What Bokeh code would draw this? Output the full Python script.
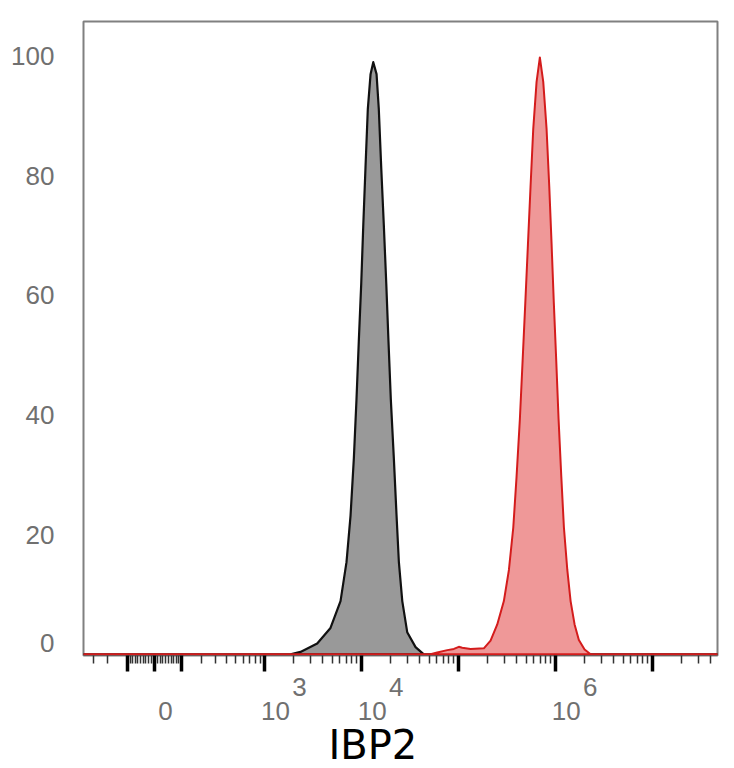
import numpy as np
from bokeh.plotting import figure
from bokeh.models import (ColumnDataSource, Range1d, FixedTicker, LinearAxis, Title,
                          CustomJSTransform)
from bokeh.transform import transform
from bokeh.embed import file_html
from bokeh.resources import INLINE

# ---- data (fluorescence intensity vs. % of max) ----
COFACTOR = 148.0  # arcsinh display cofactor of the biexponential-like axis

BLACK_X = [-385, 1864, 2364, 3518, 4824, 6120, 7052, 7763, 8399, 8939, 9442,
           10005, 10500, 11070, 11700, 12484, 13313, 14393, 15177, 16080, 17109,
           18123, 19107, 20195, 21689, 23132, 24450, 26499, 29800, 36327, 44178, 4.7e7]
BLACK_Y = [0, 0, 0.4, 1.8, 4.4, 8.9, 15.4, 23.2, 32.8, 42.6, 52.3,
           62, 71.7, 81.4, 91.2, 97, 99.0, 97, 91.2, 81.4, 71.7,
           62, 52.3, 42.6, 32.8, 23.2, 15.4, 8.9, 3.7, 1.2, 0, 0]

RED_X = [-385, 51786, 60710, 77100, 90200, 101450, 109960, 134000, 183700, 215400,
         252500, 295300, 332900, 369200, 399200, 431700, 460500, 491100, 522700,
         556200, 593300, 641600, 693800, 752000, 813300, 867300, 916900, 966400,
         1024000, 1082000, 1154000, 1228000, 1331000, 1439000, 1582000, 1751000,
         2005000, 2313000, 4.7e7]
RED_Y = [0, 0, 0.3, 0.7, 0.9, 1.25, 1.1, 0.9, 1.0, 2.3,
         5.0, 8.9, 14.1, 21.2, 29.7, 39.3, 49, 58.75, 68.5,
         78.2, 87.9, 95.7, 99.8, 95.7, 87.9, 78.2, 68.5, 58.75,
         49, 39.3, 29.7, 21.2, 14.1, 8.9, 5.0, 2.4,
         0.8, 0, 0]

X_LIMITS = [-385, 4.7e7]
Y_LIMITS = [-0.2, 105.8]
Y_TICKS = [20, 40, 60, 80, 100]
Y_ZERO_LABEL = "0"
X_MAJOR_TICKS = [-100, 0, 100, 1e3, 1e4, 1e5, 1e6, 1e7]
X_TICK_LABELS = [(0, "0", ""), (1e3, "10", "3"), (1e4, "10", "4"), (1e6, "10", "6")]
X_TITLE = "IBP2"

GRAY_FILL = "#999999"
GRAY_LINE = "#111111"
RED_FILL = "#ef9898"
RED_LINE = "#d41c1c"
LABEL_COLOR = "#707070"
LABEL_FONT = "Liberation Sans"

# layout (pixels)
W, H = 730, 768
FRAME_L, FRAME_T, FRAME_R, FRAME_B = 83, 21, 717, 655
BASE_SHIFT_PX = 11      # "10" text centred right of its tick, as in the original
EXP_SHIFT_PX = 35       # exponent further right
ZERO_RAISE_PX = 11.5    # y "0" label raised above the baseline
TITLE_LEFT_PX = 245     # title left edge measured from the frame's left side


def axis_scale(v):
    return np.arcsinh(np.asarray(v, dtype=float) / COFACTOR) / np.log(10)


minor = ([-m * 100 for m in range(2, 10)] + [-m * 10 for m in range(1, 10)] +
         [m * 10 for m in range(1, 10)] + [m * 100 for m in range(2, 10)] +
         [m * 10 ** k for k in range(3, 8) for m in range(2, 10)])
minor = [t for t in minor if X_LIMITS[0] < t < X_LIMITS[1]]

scale_t = CustomJSTransform(
    args=dict(c=COFACTOR),
    func="return Math.asinh(x / c) / Math.LN10;",
    v_func="""
        const out = new Float64Array(xs.length);
        for (let i = 0; i < xs.length; i++) { out[i] = Math.asinh(xs[i] / c) / Math.LN10; }
        return out;
    """,
)

xs_lim = axis_scale(X_LIMITS)
px_per_u = (FRAME_R - FRAME_L) / float(xs_lim[1] - xs_lim[0])
px_per_y = (FRAME_B - FRAME_T) / float(Y_LIMITS[1] - Y_LIMITS[0])

p = figure(width=W, height=H, output_backend="svg", toolbar_location=None,
           x_range=Range1d(float(xs_lim[0]), float(xs_lim[1])),
           y_range=Range1d(*Y_LIMITS))
p.min_border_left = FRAME_L
p.min_border_right = W - FRAME_R
p.min_border_top = FRAME_T
p.min_border_bottom = H - FRAME_B
p.background_fill_color = "white"
p.border_fill_color = "white"
p.outline_line_color = "#808080"
p.outline_line_width = 2
p.xgrid.visible = False
p.ygrid.visible = False

black_src = ColumnDataSource(dict(x=BLACK_X, y=BLACK_Y))
red_src = ColumnDataSource(dict(x=RED_X, y=RED_Y))

p.patch(x=transform("x", scale_t), y="y", source=black_src,
        fill_color=GRAY_FILL, line_color=GRAY_LINE, line_width=2.2, line_join="round")
p.patch(x=transform("x", scale_t), y="y", source=red_src,
        fill_color=RED_FILL, line_color=RED_LINE, line_width=2.0, line_join="round")

# x axis (ticks only)
xa = p.xaxis[0]
major_u = [round(float(v), 6) for v in axis_scale(X_MAJOR_TICKS)]
minor_u = [round(float(v), 6) for v in axis_scale(minor)]
xa.ticker = FixedTicker(ticks=major_u, minor_ticks=minor_u)
xa.axis_line_color = None
xa.major_tick_in = 0
xa.major_tick_out = 16
xa.major_tick_line_width = 3.5
xa.major_tick_line_color = "black"
xa.minor_tick_in = 0
xa.minor_tick_out = 8
xa.minor_tick_line_width = 1.5
xa.minor_tick_line_color = "#333333"
xa.major_label_overrides = {u: "" for u in major_u}
xa.major_label_text_font_size = "0px"
xa.major_label_standoff = 0


def label_axis(positions, texts, standoff):
    ticks = [round(v, 6) for v in positions]
    ax = LinearAxis(ticker=FixedTicker(ticks=ticks, minor_ticks=[]),
                    major_label_overrides={t: s for t, s in zip(ticks, texts)})
    ax.axis_line_color = None
    ax.major_tick_line_color = None
    ax.minor_tick_line_color = None
    ax.major_tick_in = 0
    ax.major_tick_out = 0
    ax.minor_tick_in = 0
    ax.minor_tick_out = 0
    ax.major_label_standoff = standoff
    ax.major_label_text_font = LABEL_FONT
    ax.major_label_text_font_size = "26px"
    ax.major_label_text_color = LABEL_COLOR
    return ax


# exponent row (raised), then base row "0" / "10"
exp_items = [(float(axis_scale(v)) + EXP_SHIFT_PX / px_per_u, e) for v, b, e in X_TICK_LABELS if e]
base_items = [(float(axis_scale(v)) + BASE_SHIFT_PX / px_per_u, b) for v, b, e in X_TICK_LABELS]
p.add_layout(label_axis([a for a, _ in exp_items], [t for _, t in exp_items], 6), "below")
p.add_layout(label_axis([a for a, _ in base_items], [t for _, t in base_items], 3), "below")

p.add_layout(Title(text=X_TITLE, align="left", offset=TITLE_LEFT_PX, standoff=-5,
                   text_font="DejaVu Sans", text_font_size="40px",
                   text_font_style="normal", text_color="black"), "below")

# y axis
ya = p.yaxis[0]
zero_pos = round(ZERO_RAISE_PX / px_per_y, 3)
ya.ticker = FixedTicker(ticks=[zero_pos] + Y_TICKS)
ya.major_label_overrides = {zero_pos: Y_ZERO_LABEL}
ya.axis_line_color = None
ya.major_tick_line_color = None
ya.minor_tick_line_color = None
ya.major_tick_out = 0
ya.major_tick_in = 0
ya.major_label_standoff = 29
ya.major_label_text_font = LABEL_FONT
ya.major_label_text_font_size = "26px"
ya.major_label_text_color = LABEL_COLOR

open("out.html", "w").write(file_html(p, INLINE))
